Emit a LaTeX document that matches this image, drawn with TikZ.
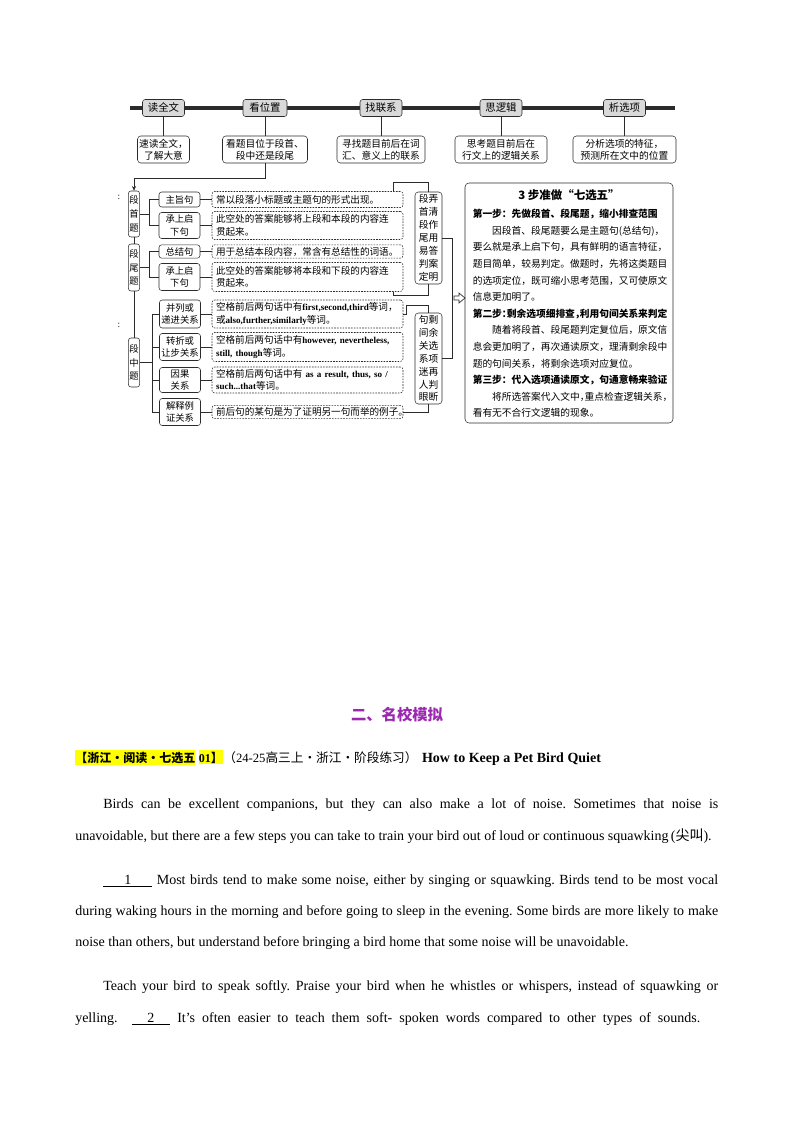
\documentclass[tikz,border=0pt]{standalone}
\usepackage{fontspec}
\setmainfont{Liberation Serif}
\newfontfamily\cjk{Noto Sans CJK SC}
\usepackage{tikz}
\usetikzlibrary{arrows.meta}
\definecolor{ink}{HTML}{2B2B2B}
\definecolor{hdrgray}{HTML}{D9D9D9}
\definecolor{plum}{HTML}{9C27B0}
\definecolor{hilite}{HTML}{FFFF00}
\tikzset{
  bar/.style={line width=3pt, draw=ink},
  link/.style={line width=0.5pt, draw=ink},
  hdr/.style={draw=ink, fill=hdrgray, rounded corners=2pt, minimum width=31.5pt,
    minimum height=12.75pt, inner sep=0pt, font=\cjk\fontsize{7.8}{9}\selectfont},
  note/.style={draw=ink, rounded corners=2.5pt, minimum height=20.25pt, inner sep=0pt,
    align=center, font=\cjk\fontsize{7.3}{9.2}\selectfont},
  col/.style={draw=ink, rounded corners=2pt, minimum width=8.5pt, inner sep=0pt,
    align=center, font=\cjk\fontsize{7}{10.4}\selectfont},
  sub/.style={draw=ink, rounded corners=2pt, minimum width=30.75pt, inner sep=0pt,
    align=center, font=\cjk\fontsize{7}{9.2}\selectfont},
  dbox/.style={draw=ink, dash pattern=on 1.2pt off 0.9pt, rounded corners=2pt,
    text width=137.25pt, inner xsep=3pt, inner ysep=0.5pt, align=left,
    font=\cjk\fontsize{7.2}{9.3}\selectfont},
  vbox/.style={draw=ink, rounded corners=2.5pt, minimum width=20.25pt, inner sep=0pt,
    align=center, font=\cjk\fontsize{7.3}{9.7}\selectfont},
  big/.style={draw=ink, rounded corners=3pt, minimum width=156pt, minimum height=180pt},
  hl/.style={fill=hilite, inner xsep=0pt, inner ysep=1pt, anchor=base west,
    font=\cjk\bfseries\fontsize{9}{12}\selectfont},
  para/.style={anchor=base west, inner sep=0pt, font=\fontsize{10.5}{12}\selectfont}
}
\newcommand{\en}[1]{{\rmfamily\bfseries\fontsize{6.8}{9.3}\selectfont #1}}
\newcommand{\blank}[2][36.75pt]{\underline{\makebox[#1]{#2}}}
\newcommand{\halfp}[1]{\makebox[.5em][l]{#1}}
\frenchspacing

\begin{document}
\begin{tikzpicture}[x=0.75pt, y=-0.75pt]
  \useasboundingbox (0,0) rectangle (794,1123);
  % five steps along the bar
  \draw[bar] (130,108) -- (675,108);
  \node[hdr] (h1) at (163.5,108) {读全文};
  \node[hdr, minimum width=33pt] (h2) at (265,108) {看位置};
  \node[hdr] (h3) at (381,108) {找联系};
  \node[hdr] (h4) at (501,108) {思逻辑};
  \node[hdr] (h5) at (624.5,108) {析选项};
  \node[note, minimum width=39pt] (n1) at (163.5,149.5) {速读全文，\\了解大意};
  \node[note, minimum width=63.75pt] (n2) at (265,149.5) {看题目位于段首、\\段中还是段尾};
  \node[note, minimum width=66pt] (n3) at (381,149.5) {寻找题目前后在词\\汇、意义上的联系};
  \node[note, minimum width=69pt] (n4) at (501,149.5) {思考题目前后在\\行文上的逻辑关系};
  \node[note, minimum width=77.25pt] (n5) at (624.5,149.5) {分析选项的特征，\\预测所在文中的位置};
  \draw[link] (h1.south) -- (n1.north);
  \draw[link] (h2.south) -- (n2.north);
  \draw[link] (h3.south) -- (n3.north);
  \draw[link] (h4.south) -- (n4.north);
  \draw[link] (h5.south) -- (n5.north);

  % where the blank stands
  \node[col, minimum height=34.5pt] (c1) at (134,214) {段\\首\\题};
  \node[col, minimum height=35.25pt] (c2) at (134,267.5) {段\\尾\\题};
  \node[col, minimum height=36.75pt] (c3) at (134,362.5) {段\\中\\题};
  \draw[link, -{Stealth[length=3.5pt, width=3pt]}] (n2.south) -- ++(0,15) -| (c1.north);
  \draw[link] (c1.south) -- (c2.north);
  \draw[link] (c2.south) -- (c3.north);
  \node[font=\fontsize{7}{8}\selectfont] (mk1) at (119,197) {:};
  \node[font=\fontsize{7}{8}\selectfont] (mk2) at (119,325) {:};

  \node[sub, minimum height=11.25pt] (s1) at (179.5,199.5) {主旨句};
  \node[sub, minimum height=19.5pt] (s2) at (179.5,225.5) {承上启\\下句};
  \node[sub, minimum height=10pt] (s3) at (179.5,251.5) {总结句};
  \node[sub, minimum height=20.25pt] (s4) at (179.5,277) {承上启\\下句};
  \node[sub, minimum height=21pt] (s5) at (180,314) {并列或\\递进关系};
  \node[sub, minimum height=20.25pt] (s6) at (180,347) {转折或\\让步关系};
  \node[sub, minimum height=18.75pt] (s7) at (180,380) {因果\\关系};
  \node[sub, minimum height=20.25pt] (s8) at (180,412) {解释例\\证关系};
  \draw[link] (c1.east) -- ++(9.5,0) coordinate (j1) (j1) |- (s1.west) (j1) |- (s2.west);
  \draw[link] (c2.east) -- ++(9.5,0) coordinate (j2) (j2) |- (s3.west) (j2) |- (s4.west);
  \draw[link] (c3.east) -- ++(12,0) coordinate (j3) (j3) |- (s5.west) (j3) |- (s8.west);
  \draw[link] (j3) |- (s6.west) (j3) |- (s7.west);

  \node[dbox, minimum height=12pt] (d1) at (307.5,199.5) {常以段落小标题或主题句的形式出现。};
  \node[dbox, minimum height=21pt] (d2) at (307.5,225.5) {此空处的答案能够将上段和本段的内容连\\贯起来。};
  \node[dbox, minimum height=10pt] (d3) at (307.5,251.5) {用于总结本段内容，常含有总结性的词语。};
  \node[dbox, minimum height=21.75pt] (d4) at (307.5,277) {此空处的答案能够将本段和下段的内容连\\贯起来。};
  \node[dbox, minimum height=21pt] (d5) at (307.5,314) {空格前后两句话中有\en{first,second,third}等词，\\或\en{also,further,similarly}等词。};
  \node[dbox, minimum height=21.75pt] (d6) at (307.5,347) {空格前后两句话中有\en{however, nevertheless,}\\\en{still, though}等词。};
  \node[dbox, minimum height=19.5pt] (d7) at (307.5,380) {空格前后两句话中有 \en{as a result, thus, so /}\\\en{such...that}等词。};
  \node[dbox, minimum height=10pt] (d8) at (307.5,412) {前后句的某句是为了证明另一句而举的例子。};
  \draw[link] (s1.east) -- (d1.west);
  \draw[link] (s2.east) -- (d2.west);
  \draw[link] (s3.east) -- (d3.west);
  \draw[link] (s4.east) -- (d4.west);
  \draw[link] (s5.east) -- (d5.west);
  \draw[link] (s6.east) -- (d6.west);
  \draw[link] (s7.east) -- (d7.west);
  \draw[link] (s8.east) -- (d8.west);

  % two rules, then the three steps
  \node[vbox, minimum height=69pt] (v1) at (428.5,238) {段弄\\首清\\段作\\尾用\\易答\\判案\\定明};
  \node[vbox, minimum height=68.25pt] (v2) at (428.5,358.5) {句剩\\间余\\关选\\系项\\迷再\\人判\\眼断};
  \draw[link] (d1.north east) ++(-10,0) -- ++(0,-9) -| (v1.north);
  \draw[link] (d4.south east) ++(-10,0) -- ++(0,4) -| (v1.south);
  \draw[link] (d5.east) -- ++(3,0) -- ++(0,-9) -| (v2.north);
  \draw[link] (d8.east) -| (v2.south);
  \draw[link] (v1.east) -- ++(10,0) |- (v2.east);
  \draw[link, fill=white] (454,296) -- (459,296) -- (459,293) -- (465,298)
    -- (459,303) -- (459,300) -- (454,300) -- cycle;

  \node[big] (bg) at (569,303) {};
  \node[font=\cjk\bfseries\fontsize{8.6}{10}\selectfont] (bt) at (569,195) {3 步准做“七选五”};
  \node[anchor=north west, inner sep=0pt, align=left,
    font=\cjk\fontsize{7.3}{12.45}\selectfont] (bb) at (472.5,209) {%
    {\bfseries 第一步：先做段首、段尾题，缩小排查范围}\\
    \hspace*{2em}因段首、段尾题要么是主题句(总结句)，\\
    要么就是承上启下句，具有鲜明的语言特征，\\
    题目简单，较易判定。做题时，先将这类题目\\
    的选项定位，既可缩小思考范围，又可使原文\\
    信息更加明了。\\
    {\bfseries 第二步\halfp{：}剩余选项细排查\halfp{，}利用句间关系来判定}\\
    \hspace*{2em}随着将段首、段尾题判定复位后，原文信\\
    息会更加明了，再次通读原文，理清剩余段中\\
    题的句间关系，将剩余选项对应复位。\\
    {\bfseries 第三步：代入选项通读原文，句通意畅来验证}\\
    \hspace*{2em}将所选答案代入文中\halfp{，}重点检查逻辑关系，\\
    看有无不合行文逻辑的现象。};

  % exercise below the chart
  \node[font=\cjk\bfseries\fontsize{11.5}{14}\selectfont, text=plum] (sec) at (397,715) {二、名校模拟};
  \node[hl] (tag1) at (75,762) {【浙江・阅读・七选五};
  \node[hl] (tag2) at ([xshift=2.25pt]tag1.base east) {{\rmfamily 01}】};
  \node[para, font=\fontsize{9.5}{12}\selectfont] (src) at (tag2.base east) {{\cjk （}24-25{\cjk 高三上·浙江·阶段练习）}};
  \node[para, font=\bfseries\fontsize{10.5}{12}\selectfont] (ttl) at ([xshift=3pt]src.base east) {How to Keep a Pet Bird Quiet};

  \node[para] (p1) at (103,808) {\makebox[461.25pt][s]{Birds can be excellent companions, but they can also make a lot of noise. Sometimes that noise is}};
  \node[para] (p2) at (75,840) {unavoidable, but there are a few steps you can take to train your bird out of loud or continuous squawking\,({\cjk 尖叫}).};
  \node[para] (p3) at (103,884) {\makebox[461.25pt][s]{\blank{1} Most birds tend to make some noise, either by singing or squawking. Birds tend to be most vocal}};
  \node[para] (p4) at (75,915) {\makebox[482.25pt][s]{during waking hours in the morning and before going to sleep in the evening. Some birds are more likely to make}};
  \node[para] (p5) at (75,946) {noise than others, but understand before bringing a bird home that some noise will be unavoidable.};
  \node[para] (p6) at (103,990) {\makebox[461.25pt][s]{Teach your bird to speak softly. Praise your bird when he whistles or whispers, instead of squawking or}};
  \node[para] (p7) at (75,1022) {\makebox[468.75pt][s]{yelling.\quad\blank[29pt]{2} It’s often easier to teach them soft- spoken words compared to other types of sounds.}};
\end{tikzpicture}
\end{document}
